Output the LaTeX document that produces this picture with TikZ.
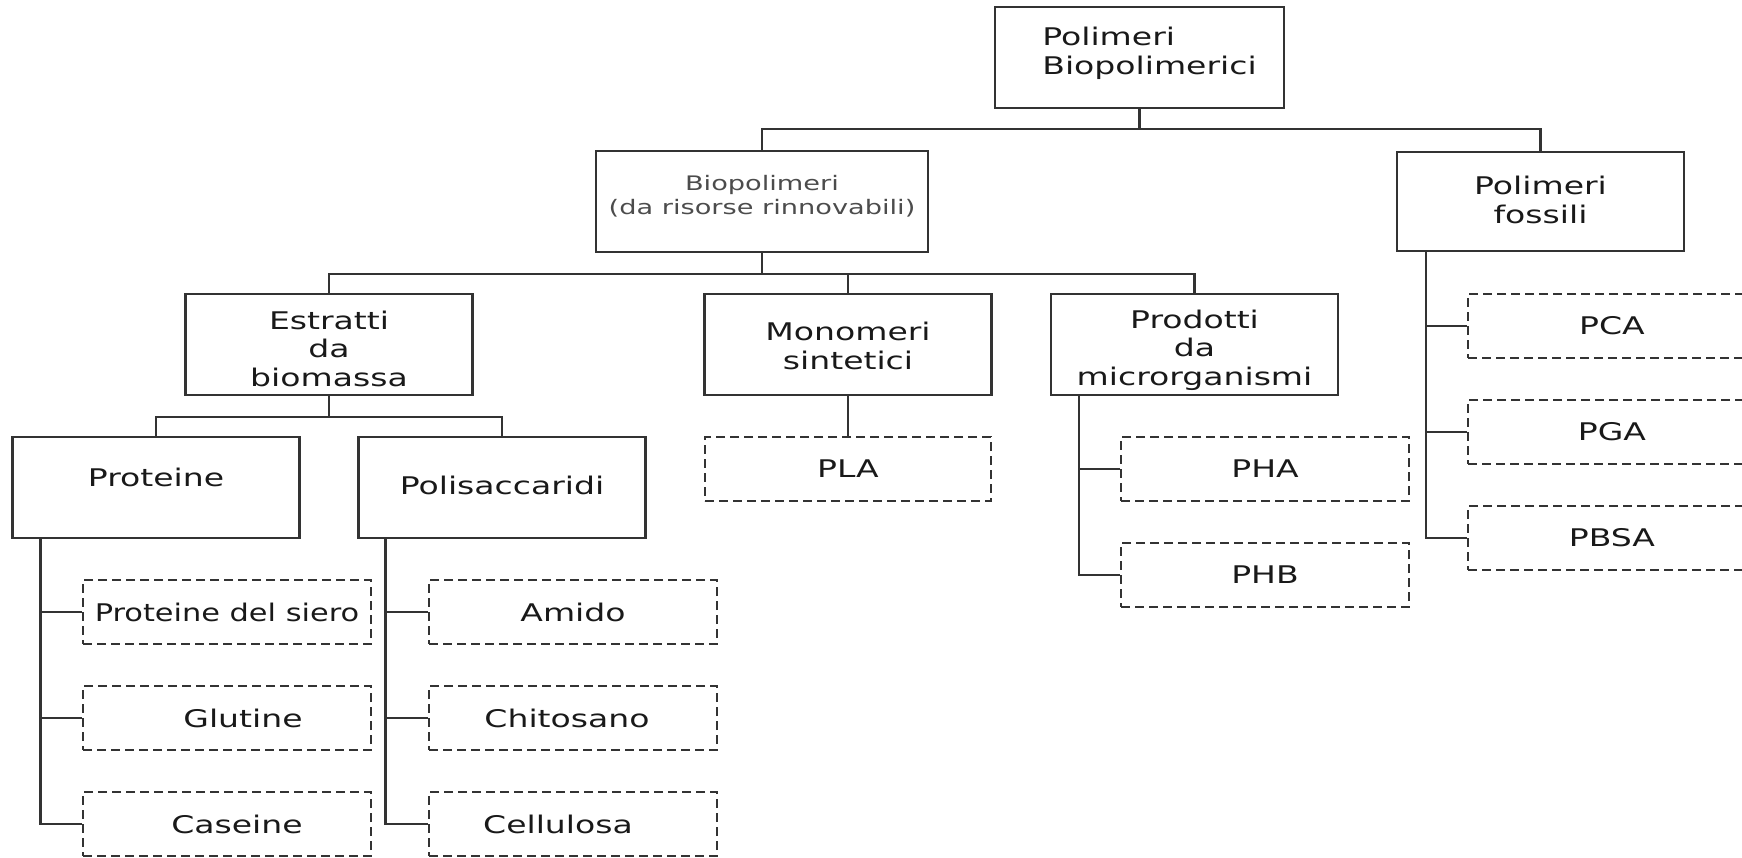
\documentclass[tikz,border=0pt]{standalone}
\usepackage{fontspec}
\setmainfont{DejaVu Sans}[FakeStretch=1.36]
\definecolor{edge}{HTML}{333333}
\begin{document}
\begin{tikzpicture}[x=1pt, y=-1pt,
  solidbox/.style={draw=edge, line width=2.2pt, rectangle, inner sep=0pt,
    minimum width=287pt, minimum height=101pt, align=center,
    font=\fontsize{24.3}{28.5}\selectfont, text=black!90},
  dashbox/.style={solidbox, line width=2pt, dash pattern=on 9pt off 5pt,
    minimum width=288pt, minimum height=64pt},
  link/.style={draw=edge, line width=2.2pt}]

\useasboundingbox (0, 0) rectangle (1742, 857);

% Root
\node (root) at (1139.5, 57.5) [solidbox, minimum width=289pt, align=left, text height=47pt, text depth=14pt] {\hspace*{20pt}Polimeri\\\hspace*{20pt}Biopolimerici};

% Biopolimeri / fossili
\node (bio) at (762, 201.5) [solidbox, minimum width=332pt, font=\fontsize{20}{24}\selectfont, text=black!70, text height=39pt, text depth=14pt] {Biopolimeri\\(da risorse rinnovabili)};
\node (fos) at (1540.5, 201.5) [solidbox, minimum height=99pt, text height=47pt, text depth=4pt] {Polimeri\\fossili};

\draw [link] (root.south) -- ++(0, 20) -| (bio.north);
\draw [link] (root.south) -- ++(0, 20) -| (fos.north);

% Origin of the biopolymers
\node (estr) at (329, 344.5) [solidbox, text height=83pt, text depth=0pt] {Estratti\\da\\biomassa};
\node (mono) at (848, 344.5) [solidbox, text height=49pt, text depth=0pt] {Monomeri\\sintetici};
\node (prod) at (1194.5, 344.5) [solidbox, text height=81pt, text depth=0pt] {Prodotti\\da\\microrganismi};

\draw [link] (bio.south) -- ++(0, 21) -| (estr.north);
\draw [link] (bio.south) -- ++(0, 21) -| (mono.north);
\draw [link] (bio.south) -- ++(0, 21) -| (prod.north);

% Biomass
\node (prot) at (156, 487.5) [solidbox, text depth=20pt] {Proteine};
\node (polis) at (502, 487.5) [solidbox, text height=18pt, text depth=5pt] {Polisaccaridi};

\draw [link] (estr.south) -- ++(0, 21) -| (prot.north);
\draw [link] (estr.south) -- ++(0, 21) -| (polis.north);

% Proteine
\node (siero) at (227, 612) [dashbox] {\scalebox{0.92}[1]{Proteine del siero}};
\node (glut) at (227, 718) [dashbox] {\hspace*{32pt}Glutine};
\node (case) at (227, 824) [dashbox] {\hspace*{20pt}Caseine};

\draw [link] ([xshift=29pt]prot.south west) |- (siero.west);
\draw [link] ([xshift=29pt]prot.south west) |- (glut.west);
\draw [link] ([xshift=29pt]prot.south west) |- (case.west);

% Polisaccaridi
\node (amido) at (573, 612) [dashbox] {Amido};
\node (chito) at (573, 718) [dashbox] {\hspace*{-12pt}Chitosano};
\node (cell) at (573, 824) [dashbox] {Cellulosa\hspace*{30pt}};

\draw [link] ([xshift=28pt]polis.south west) |- (amido.west);
\draw [link] ([xshift=28pt]polis.south west) |- (chito.west);
\draw [link] ([xshift=28pt]polis.south west) |- (cell.west);

% Monomeri
\node (pla) at (848, 469) [dashbox, minimum width=286pt] {PLA};
\draw [link] (mono.south) -- (pla.north);

% Microrganismi
\node (pha) at (1265, 469) [dashbox] {PHA};
\node (phb) at (1265, 575) [dashbox] {PHB};

\draw [link] ([xshift=29pt]prod.south west) |- (pha.west);
\draw [link] ([xshift=29pt]prod.south west) |- (phb.west);

% Fossili
\node (pca) at (1612, 326) [dashbox] {PCA};
\node (pga) at (1612, 432) [dashbox] {PGA};
\node (pbsa) at (1612, 538) [dashbox] {PBSA};

\draw [link] ([xshift=30pt]fos.south west) |- (pca.west);
\draw [link] ([xshift=30pt]fos.south west) |- (pga.west);
\draw [link] ([xshift=30pt]fos.south west) |- (pbsa.west);

\end{tikzpicture}
\end{document}
